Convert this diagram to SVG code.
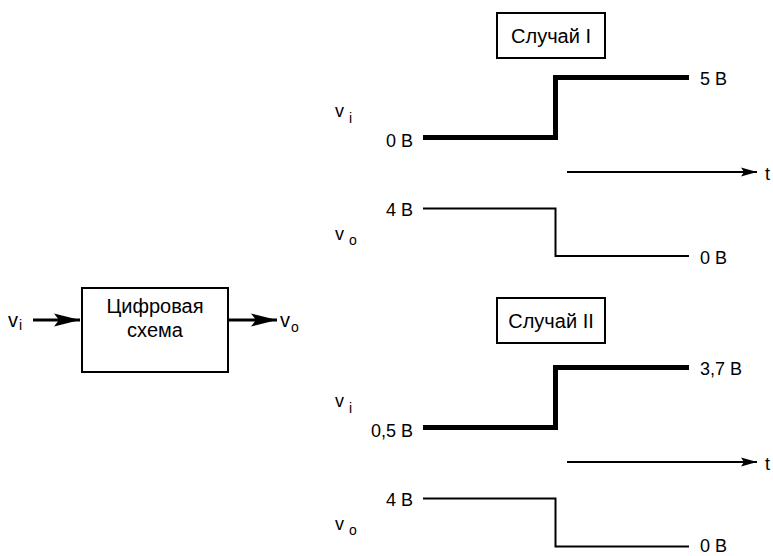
<svg xmlns="http://www.w3.org/2000/svg" width="773" height="556" viewBox="0 0 773 556">
<defs>
<style>
text{font-family:"Liberation Sans",Arial,sans-serif;fill:#000;font-size:18px}
.big{font-size:20px}
.sub{font-size:14px}
.box{fill:#fff;stroke:#000;stroke-width:2}
.thick{fill:none;stroke:#000;stroke-width:5;stroke-linejoin:miter;stroke-linecap:butt}
.thin{fill:none;stroke:#000;stroke-width:2;stroke-linejoin:miter}
.axis{fill:none;stroke:#000;stroke-width:2}
.sig{fill:none;stroke:#000;stroke-width:3}
</style>
<marker id="ah" viewBox="-16 -5 16 10" refX="0" refY="0" markerWidth="16" markerHeight="10" markerUnits="userSpaceOnUse" orient="auto">
<path d="M0,0 L-16,-4.5 L-13,0 L-16,4.5 Z" fill="#000"/>
</marker>
<marker id="big" viewBox="-26 -7 26 14" refX="0" refY="0" markerWidth="26" markerHeight="14" markerUnits="userSpaceOnUse" orient="auto">
<path d="M0,0 L-26,-6.5 L-21,0 L-26,6.5 Z" fill="#000"/>
</marker>
</defs>

<g id="circuit">
<rect class="box" x="82" y="288" width="146" height="84"/>
<text class="big" x="155" y="313" text-anchor="middle">Цифровая</text>
<text class="big" x="155" y="337" text-anchor="middle">схема</text>
</g>
<g id="label-vi"><text class="big" x="8" y="327">v</text><text class="sub" x="19" y="330">i</text></g>
<g id="label-vo"><text class="big" x="280" y="327">v</text><text class="sub" x="291" y="332">o</text></g>

<g id="connectors">
<line class="sig" x1="33" y1="320" x2="80" y2="320" marker-end="url(#big)"/>
<line class="sig" x1="229" y1="320" x2="277" y2="320" marker-end="url(#big)"/>
</g>

<g id="case1">
<rect class="box" x="497" y="13" width="108" height="45"/>
<text class="big" x="551" y="43" text-anchor="middle">Случай I</text>
<text x="335" y="117">v</text><text class="sub" x="349" y="123">i</text>
<text x="413" y="147" text-anchor="end">0 В</text>
<path class="thick" d="M423,137.5 H555.5 V77.5 H689"/>
<text x="700" y="85">5 В</text>
<line class="axis" x1="567" y1="172" x2="757" y2="172" marker-end="url(#ah)"/>
<text x="765" y="180">t</text>
<text x="413" y="216" text-anchor="end">4 В</text>
<path class="thin" d="M423,208.5 H555.5 V256 H689"/>
<text x="700" y="264">0 В</text>
<text x="335" y="240">v</text><text class="sub" x="349" y="245">o</text>
</g>

<g id="case2">
<rect class="box" x="497" y="298" width="108" height="45"/>
<text class="big" x="551" y="328" text-anchor="middle">Случай II</text>
<text x="335" y="407">v</text><text class="sub" x="349" y="413">i</text>
<text x="413" y="437" text-anchor="end">0,5 В</text>
<path class="thick" d="M423,427.5 H555.5 V367.5 H689"/>
<text x="700" y="375">3,7 В</text>
<line class="axis" x1="567" y1="462" x2="757" y2="462" marker-end="url(#ah)"/>
<text x="765" y="470">t</text>
<text x="413" y="506" text-anchor="end">4 В</text>
<path class="thin" d="M423,498.5 H555.5 V546.5 H689"/>
<text x="700" y="552">0 В</text>
<text x="335" y="530">v</text><text class="sub" x="349" y="535">o</text>
</g>
</svg>
